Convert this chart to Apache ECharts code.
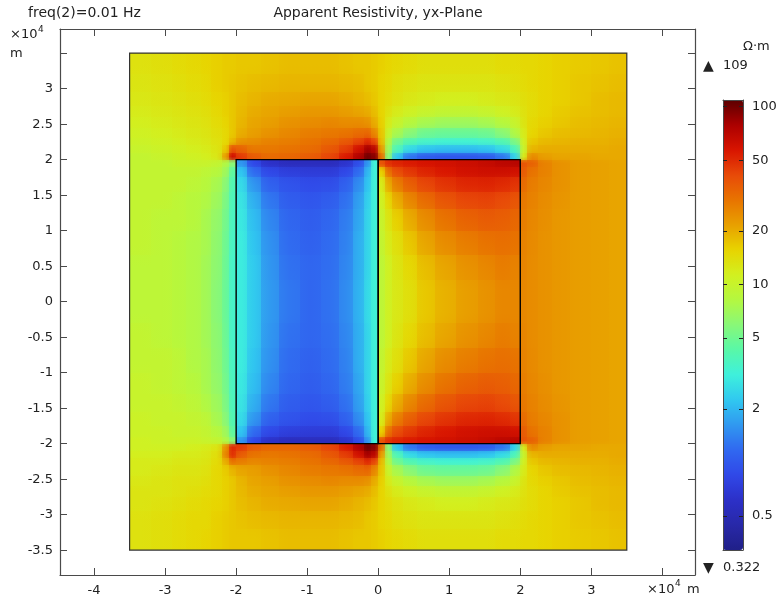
<!DOCTYPE html>
<html><head><meta charset="utf-8">
<style>html,body{margin:0;padding:0;background:#fff}#c{width:783px;height:601px}</style>
<script src="https://cdn.jsdelivr.net/npm/echarts@6/dist/echarts.min.js"></script>
</head><body><div id="c"></div>
<script>
// Units of both axes: 10^4 m. Cell edges of the resistivity map.
var xEdges = [-3.5,-3.2,-2.9,-2.7,-2.5,-2.35,-2.2,-2.1,-2.0,-1.85,-1.65,-1.4,-1.1,-0.8,-0.55,-0.35,-0.2,-0.1,0,0.1,0.2,0.35,0.55,0.8,1.1,1.4,1.65,1.85,2.0,2.1,2.25,2.45,2.7,3.0,3.25,3.5];
var yEdges = [3.5,3.2,2.95,2.75,2.6,2.45,2.3,2.2,2.1,2.0,1.9,1.75,1.55,1.3,1.0,0.65,0.3,0,-0.3,-0.65,-1.0,-1.3,-1.55,-1.75,-1.9,-2.0,-2.1,-2.2,-2.3,-2.45,-2.6,-2.75,-2.95,-3.2,-3.5];
// Apparent resistivity in ohm-metres, one row per y cell from the top.
var resistivity = [
[13.5,14,14.5,15,15.5,16,16.5,16.5,17,17,17.5,18,18,18,17.5,17,17,16.5,16,15.5,15,14.5,14,14,14,14,14.5,14.5,15,15,15.5,16,16.5,17,17.5],
[13,13.5,14,14.5,15,16,16.5,17,17.5,18,18.5,19,19,19,18.5,18,17,16.5,15.5,15,14,13.5,13,13,13,13,13.5,14,14.5,15,15.5,16,17,17.5,18],
[12.5,13,13.5,14,14.5,15.5,16,17,18,19,20,20.5,21,21,20,19,18,17,15.5,14.5,13.5,12.5,12,11.5,11.5,12,12.5,13,14,14.5,15.5,16,17,18,18.5],
[12,12.5,13,13.5,14,15,16,17,18.5,20,21,22,23,23,22,21,20,18,15.5,13.5,12,11,10,9.5,9.5,10,11,12,13.5,14.5,15.5,16.5,17.5,18,18.5],
[11.5,12,12.5,13,13.5,14.5,15.5,17,19,21,22,24,25,26,25,25,24,20,16,12,10,8.5,7.5,7,7,7.5,8.5,10,13,15,16,17,18,18.5,19],
[11,11.5,12,12.5,13,14,15,17,20,22,24,26,28,29,30,32,33,26,17,10,7.5,6,5,4.8,4.8,5,6,8,12,15.5,17,18,18.5,19,19.5],
[10.5,11,11.5,12,12.5,13.5,15,19,24,25,27,28,30,33,37,43,50,42,18,8,5,4,3.5,3.3,3.3,3.5,4,5.5,11,17,18.5,19,19.5,19.5,20],
[10,10.5,11,11.5,12,13,17,38,34,29,29,30,32,37,45,60,80,70,22,7,3.8,2.6,2.2,2.1,2.1,2.2,2.6,3.8,10,19,20,20,20,20,20.5],
[9.5,10,10.5,11,11.5,12.5,22,60,45,36,32,33,36,42,55,75,98,90,30,6,2.2,1.3,1.05,1,1,1.05,1.3,2.5,12,25,22,21,21,20.5,20.5],
[9.5,9.5,10,10,10,9.5,8,6,1.6,0.85,0.62,0.55,0.55,0.55,0.65,0.9,1.6,3.2,38,48,52,55,58,60,63,66,70,72,38,34,27,24,22,21.5,21],
[9.5,9.5,9.5,9.5,9,8.5,7,4.5,2.2,1.2,0.85,0.75,0.72,0.72,0.85,1.2,2,3.2,16,30,40,46,52,56,60,62,62,60,36,30,27,24,22,21.5,21],
[9.5,9.5,9.5,9,8.5,7.5,6,4,2.6,1.6,1.1,0.95,0.88,0.9,1.1,1.5,2.2,3.2,12,20,28,35,42,47,51,52,50,47,32,28,26,24,22,21.5,21],
[9.5,9.5,9,8.5,8,7,5.5,3.8,2.8,1.9,1.3,1.05,0.98,1.05,1.25,1.7,2.4,3.2,11,15,20,26,32,38,42,43,41,38,29,27,25,23.5,22,21.5,21],
[9.5,9,9,8.5,7.5,6.5,5.2,3.7,2.9,2.1,1.45,1.15,1.05,1.15,1.35,1.8,2.5,3.2,10,13,16,20,25,30,34,36,35,33,28,26,24.5,23,22,21.5,21],
[9.5,9,8.5,8,7.5,6.3,5,3.6,3,2.2,1.55,1.2,1.1,1.2,1.4,1.9,2.5,3.2,9.5,12,14,17,21,25,28,30,31,30,27,25.5,24,23,22,21.5,21],
[9,9,8.5,8,7.2,6.2,4.9,3.5,3,2.3,1.6,1.25,1.15,1.22,1.45,1.9,2.5,3.2,9,11,13,15,18,21,24,26,28,27,26.5,25,24,23,22,21.5,21],
[9,9,8.5,8,7.2,6,4.8,3.5,3,2.3,1.65,1.3,1.15,1.25,1.5,1.95,2.6,3.2,9,11,12.5,14,17,19.5,22,24,26,26,26,25,24,23,22,21.5,21],
[9,9,8.5,8,7.2,6,4.8,3.5,3,2.3,1.65,1.3,1.15,1.25,1.5,1.95,2.6,3.2,9,11,12.5,14,17,19.5,22,24,26,26,26,25,24,23,22,21.5,21],
[9.5,9,8.5,8,7.2,6.2,4.9,3.5,3,2.3,1.6,1.25,1.15,1.22,1.45,1.9,2.5,3.2,9,11,13,15,18,21,24,26,28,27,26.5,25,24,23,22,21.5,21],
[9.5,9.5,9,8,7.5,6.3,5,3.6,3,2.2,1.55,1.2,1.1,1.2,1.4,1.9,2.5,3.2,9.5,12,14,17,21,25,28,30,31,30,27,25.5,24,23,22,21.5,21],
[10,9.5,9,8.5,7.5,6.5,5.2,3.7,2.9,2.1,1.45,1.15,1.05,1.15,1.35,1.8,2.5,3.2,10,13,16,20,25,30,34,36,35,33,28,26,24.5,23,22,21.5,21],
[10,10,9.5,9,8,7,5.5,3.8,2.8,1.9,1.3,1.05,0.98,1.05,1.25,1.7,2.4,3.2,11,15,20,26,32,38,42,43,41,38,29,27,25,23.5,22,21.5,21],
[10.5,10,10,9.5,9,7.5,6,4,2.6,1.6,1.1,0.95,0.88,0.9,1.1,1.5,2.2,3.2,12,20,28,35,42,47,51,52,50,47,32,28,26,24,22,21.5,21],
[10.5,10.5,10,10,9.5,8.5,7,4.5,2.2,1.2,0.85,0.75,0.72,0.72,0.85,1.2,2,3.2,16,30,40,46,52,56,60,62,62,60,36,30,27,24,22,21.5,21],
[11,10.5,10.5,10.5,10,9.5,8,6,1.6,0.85,0.62,0.55,0.55,0.55,0.65,0.9,1.6,3.2,38,48,52,55,58,60,63,66,70,72,38,34,27,24,22,21.5,21],
[11,11,11,11.5,12,13,24,50,45,36,33,33,36,42,55,75,98,90,30,6,2.2,1.3,1.05,1,1,1.05,1.3,2.5,12,25,22,21,21,20.5,20.5],
[11.5,11.5,12,12,12.5,14,26,48,36,30,29,30,32,37,45,60,80,70,22,7,3.8,2.6,2.2,2.1,2.1,2.2,2.6,3.8,10,19,20,20,20,20,20.5],
[12,12,12.5,12.5,13,14.5,20,30,28,26,27,28,30,33,37,43,50,42,18,8,5,4,3.5,3.3,3.3,3.5,4,5.5,11,17,18.5,19,19.5,19.5,20],
[12,12.5,13,13,13.5,15,16.5,19,21,22,24,26,28,29,30,32,33,26,17,10,7.5,6,5,4.8,4.8,5,6,8,12,15.5,17,18,18.5,19,19.5],
[12.5,13,13.5,13.5,14,15,16,17,19,21,22,24,25,26,25,25,24,20,16,12,10,8.5,7.5,7,7,7.5,8.5,10,13,15,16,17,18,18.5,19],
[13,13,13.5,14,14.5,15,16,17,18.5,20,21,22,23,23,22,21,20,18,15.5,13.5,12,11,10,9.5,9.5,10,11,12,13.5,14.5,15.5,16.5,17.5,18,18.5],
[13,13.5,14,14.5,15,15.5,16,17,18,19,20,20.5,21,21,20,19,18,17,15.5,14.5,13.5,12.5,12,11.5,11.5,12,12.5,13,14,14.5,15.5,16,17,18,18.5],
[13.5,14,14.5,15,15,16,16.5,17,17.5,18,18.5,19,19,19,18.5,18,17,16.5,15.5,15,14,13.5,13,13,13,13,13.5,14,14.5,15,15.5,16,17,17.5,18],
[13.5,14,14.5,15,15.5,16,16.5,17,17,17,17.5,18,18,18,17.5,17,17,16.5,16,15.5,15,14.5,14,14,14,14,14.5,14.5,15,15,15.5,16,16.5,17,17.5]
];
// Outlined regions: [x0, y0, x1, y1] (10^4 m)
var domainBox = [[-3.5,-3.5,3.5,3.5]];
var blockBoxes = [[-2,-2,0,2],[0,-2,2,2]];
var xTicks = [-4,-3,-2,-1,0,1,2,3,4];
var yTicks = [-3.5,-3,-2.5,-2,-1.5,-1,-0.5,0,0.5,1,1.5,2,2.5,3,3.5];
var barTicks = [100,50,20,10,5,2,0.5];
var rangeMin = 0.322, rangeMax = 109;
var palette = ['#5c0000','#ac0000','#d81400','#e84a08','#e87400','#e8a000','#e8d400','#d2f020','#b4f840','#88f878','#58f8a8','#3ef0dc','#30c8f0','#3098f0','#3068f0','#3048e8','#2c30c8','#2828a8','#202088'].reverse();

var nx = xEdges.length - 1, ny = yEdges.length - 1;
var cells = [];
resistivity.forEach(function(row, j){
  row.forEach(function(v, i){
    cells.push([xEdges[i], yEdges[j+1], xEdges[i+1], yEdges[j], Math.log10(v)]);
  });
});
var barLog = barTicks.map(function(v){ return Math.log10(v); });
var lineCol = '#4a4a4a', txtCol = '#222', fontF = '"DejaVu Sans", sans-serif';

// Edges across which the field is discontinuous (material boundaries): no shading across them.
function sharpV(i, j){ // between column i-1 and i in row j
  return (xEdges[i]===-2 || xEdges[i]===0 || xEdges[i]===2) && j>=9 && j<25;
}
function sharpH(i, j){ // between row j-1 and j in column i
  return (yEdges[j]===2 || yEdges[j]===-2) && i>=8 && i<28;
}
// Each cell is one rectangle whose fill shades towards its neighbours' colours.
function fieldSeries(horizontal, opacity, z){
  return {type:'custom', xAxisIndex:0, yAxisIndex:0, silent:true, z:z, data:cells,
    dimensions:['x0','y0','x1','y1','logR'], encode:{x:[0,2], y:[1,3]},
    renderItem:function(p, api){
      var k = p.dataIndexInside, i = k % nx, j = Math.floor(k / nx);
      var a = api.coord([api.value(0), api.value(1)]), b = api.coord([api.value(2), api.value(3)]);
      var c = api.visual('color');
      var before = c, after = c;
      if (horizontal) {
        if (i>0 && !sharpV(i,j)) before = echarts.color.lerp(0.5,[api.visual('color',k-1),c]);
        if (i<nx-1 && !sharpV(i+1,j)) after = echarts.color.lerp(0.5,[c,api.visual('color',k+1)]);
      } else {
        if (j>0 && !sharpH(i,j)) before = echarts.color.lerp(0.5,[api.visual('color',k-nx),c]);
        if (j<ny-1 && !sharpH(i,j+1)) after = echarts.color.lerp(0.5,[c,api.visual('color',k+nx)]);
      }
      var x0=Math.round(a[0]), x1=Math.round(b[0]), y0=Math.round(b[1]), y1=Math.round(a[1]);
      return {type:'rect', shape:{x:x0,y:y0,width:x1-x0,height:y1-y0},
        style:{opacity:opacity, fill:{type:'linear', x:0, y:0, x2:horizontal?1:0, y2:horizontal?0:1,
          colorStops:[{offset:0,color:before},{offset:0.5,color:c},{offset:1,color:after}]}}};
    }};
}
function rectSeries(data, color, width, z){
  return {type:'custom', xAxisIndex:0, yAxisIndex:0, silent:true, z:z, data:data, clip:false,
    renderItem:function(p, api){
      var a = api.coord([api.value(0), api.value(1)]), b = api.coord([api.value(2), api.value(3)]);
      return {type:'rect', shape:{x:a[0], y:b[1], width:b[0]-a[0], height:a[1]-b[1]},
        style:{fill:'none', stroke:color, lineWidth:width}};
    }, encode:{x:[0,2], y:[1,3]}};
}
var chart = echarts.init(document.getElementById('c'), null, {renderer:'canvas'});
function txt(x,y,s,size,align){
  return {type:'text', x:x, y:y, silent:true, style:{text:s, fill:txtCol, font:(size||13)+'px '+fontF, textAlign:align||'left', textVerticalAlign:'middle'}};
}
chart.setOption({
  animation:false,
  backgroundColor:'#fff',
  tooltip:{show:false},
  grid:[
    {left:60, right:88, top:29, bottom:26, show:false},
    {left:723, width:20, top:100, height:450, show:false}
  ],
  xAxis:[
    {gridIndex:0, type:'value', min:-4.48, max:4.46, position:'bottom', splitLine:{show:false},
     axisLine:{onZero:false, lineStyle:{color:lineCol, width:1.2}},
     axisTick:{inside:true, length:7, customValues:xTicks, lineStyle:{color:lineCol}},
     axisLabel:{customValues:xTicks, color:txtCol, fontFamily:fontF, fontSize:13, margin:9, showMinLabel:true, showMaxLabel:true,
       formatter:function(v){ return v===4 ? '' : String(v); }}},
    {gridIndex:0, type:'value', min:-4.48, max:4.46, position:'top', splitLine:{show:false},
     axisLine:{onZero:false, lineStyle:{color:lineCol, width:1.2}},
     axisTick:{inside:true, length:7, customValues:xTicks, lineStyle:{color:lineCol}},
     axisLabel:{show:false}},
    {gridIndex:1, type:'value', min:0, max:1, position:'bottom', splitLine:{show:false}, axisLine:{onZero:false, lineStyle:{color:lineCol}}, axisTick:{show:false}, axisLabel:{show:false}, z:5},
    {gridIndex:1, type:'value', min:0, max:1, position:'top', splitLine:{show:false}, axisLine:{onZero:false, lineStyle:{color:lineCol}}, axisTick:{show:false}, axisLabel:{show:false}, z:5}
  ],
  yAxis:[
    {gridIndex:0, type:'value', min:-3.85, max:3.84, position:'left', splitLine:{show:false},
     axisLine:{onZero:false, lineStyle:{color:lineCol, width:1.2}},
     axisTick:{inside:true, length:7, customValues:yTicks, lineStyle:{color:lineCol}},
     axisLabel:{customValues:yTicks, color:txtCol, fontFamily:fontF, fontSize:13, margin:7,
       formatter:function(v){ return v===3.5 ? '' : String(v); }}},
    {gridIndex:0, type:'value', min:-3.85, max:3.84, position:'right', splitLine:{show:false},
     axisLine:{onZero:false, lineStyle:{color:lineCol, width:1.2}},
     axisTick:{inside:true, length:7, customValues:yTicks, lineStyle:{color:lineCol}},
     axisLabel:{show:false}},
    {gridIndex:1, type:'value', min:Math.log10(rangeMin), max:Math.log10(rangeMax), position:'right', splitLine:{show:false}, z:5,
     axisLine:{onZero:false, lineStyle:{color:lineCol}},
     axisTick:{inside:true, length:4, customValues:barLog, lineStyle:{color:'#222'}},
     axisLabel:{customValues:barLog, color:txtCol, fontFamily:fontF, fontSize:13, margin:9,
       formatter:function(v){ var t=Math.pow(10,v); return String(+t.toPrecision(2)); }}},
    {gridIndex:1, type:'value', min:Math.log10(rangeMin), max:Math.log10(rangeMax), position:'left', splitLine:{show:false}, z:5,
     axisLine:{onZero:false, lineStyle:{color:lineCol}},
     axisTick:{inside:true, length:4, customValues:barLog, lineStyle:{color:'#222'}},
     axisLabel:{show:false}}
  ],
  visualMap:{type:'continuous', seriesIndex:[0,1], dimension:4, min:Math.log10(rangeMin), max:Math.log10(rangeMax),
    left:708, top:85, itemWidth:20, itemHeight:450, calculable:false, showLabel:false, text:null, hoverLink:false,
    inRange:{color:palette}, z:1},
  series:[
    fieldSeries(true, 1, 2),
    fieldSeries(false, 0.5, 3),
    rectSeries(domainBox, '#333', 1.2, 4),
    rectSeries(blockBoxes, '#000', 1.4, 5)
  ],
  graphic:[
    txt(28,13,'freq(2)=0.01 Hz',14),
    txt(378,13,'Apparent Resistivity, yx-Plane',14,'center'),
    txt(10,35,'×10',13), txt(38,30,'4',9),
    txt(10,54,'m',13),
    txt(647,590,'×10',13), txt(675,584,'4',9), txt(687,590,'m',13),
    txt(743,47,'Ω·m',13),
    txt(703,66,'▲',14), txt(723,66,'109',13),
    txt(703,568,'▼',14), txt(723,568,'0.322',13)
  ]
});
</script></body></html>
